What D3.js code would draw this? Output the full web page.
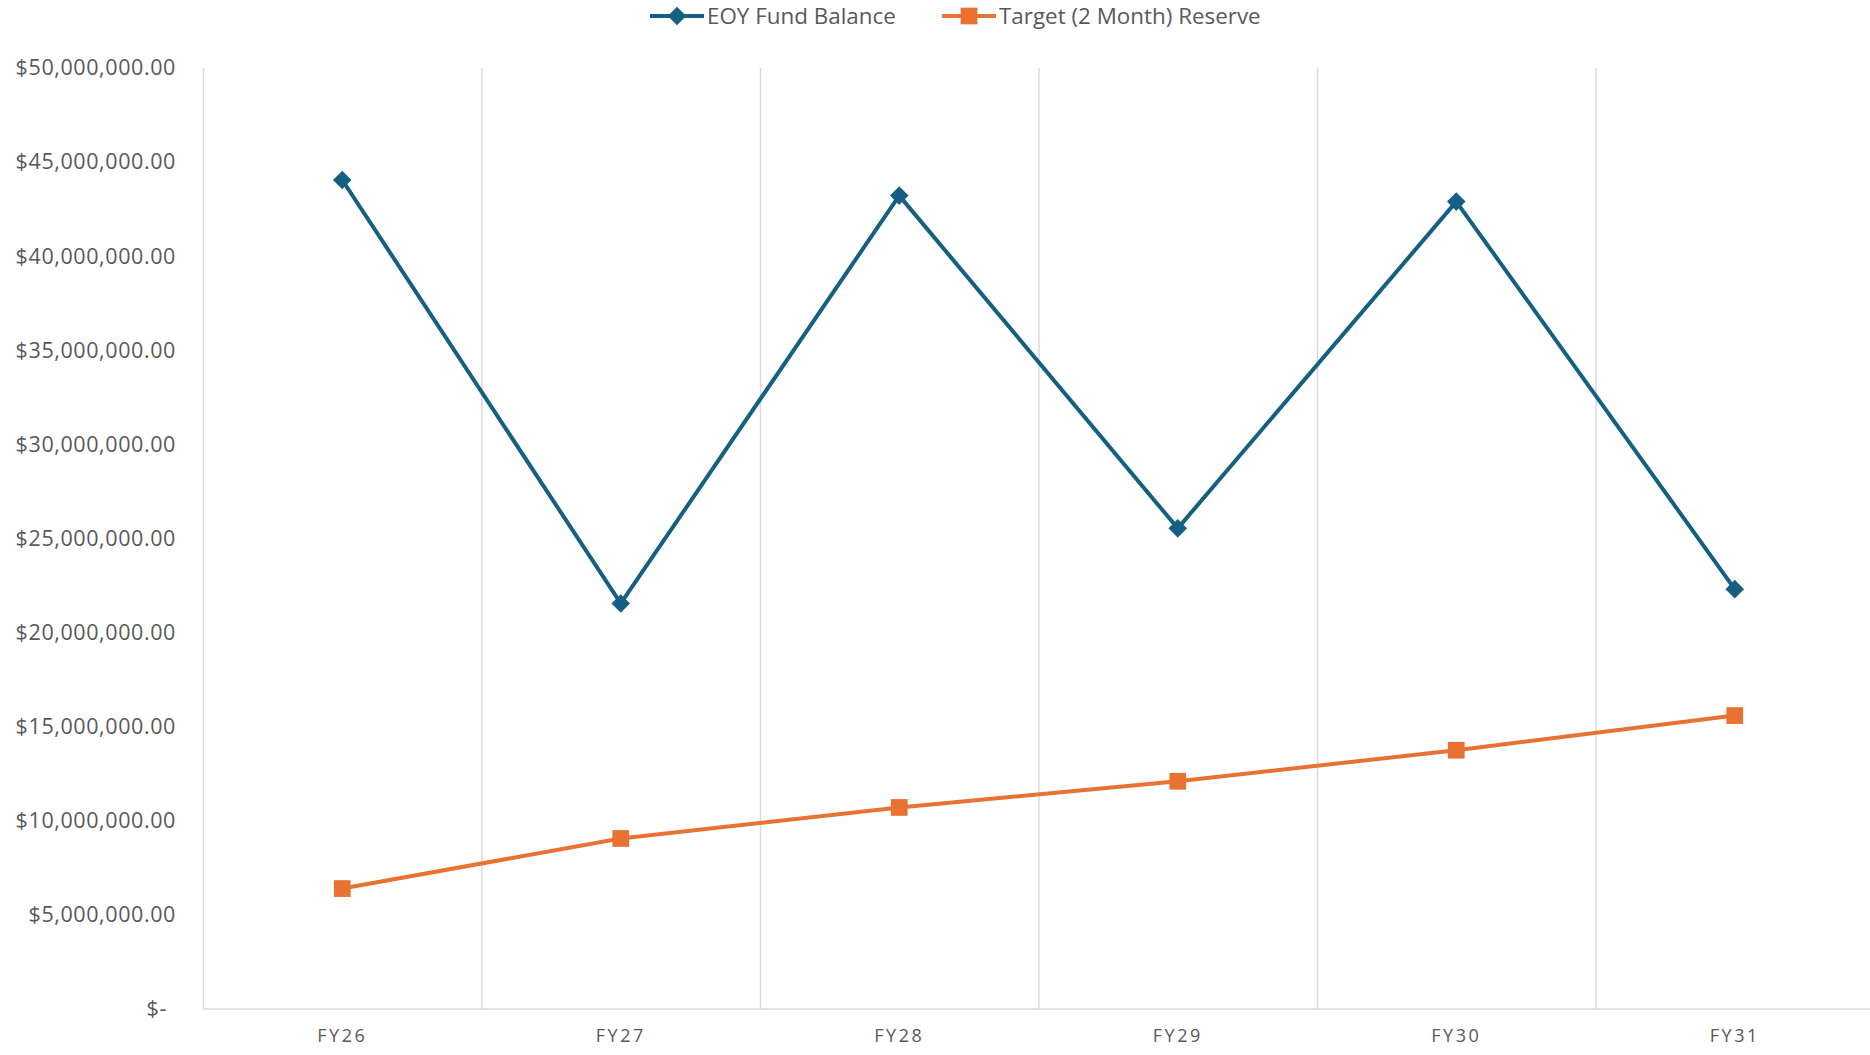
<!DOCTYPE html>
<html>
<head>
<meta charset="utf-8">
<script src="https://cdn.jsdelivr.net/npm/d3@7"></script>
<style>
  body { margin: 0; background: #fff; }
  svg { display: block; }
  text { font-family: "Open Sans", "Liberation Sans", Arial, sans-serif; fill: #595959; }
</style>
</head>
<body>
<svg width="1870" height="1055"></svg>
<script>
var categories = ["FY26", "FY27", "FY28", "FY29", "FY30", "FY31"];
var eoyBalance = [44050000, 21550000, 43220000, 25540000, 42900000, 22310000];
var targetReserve = [6400000, 9060000, 10710000, 12100000, 13750000, 15590000];
var yTicks = [0, 5000000, 10000000, 15000000, 20000000, 25000000, 30000000, 35000000, 40000000, 45000000, 50000000];
var seriesNames = ["EOY Fund Balance", "Target (2 Month) Reserve"];

var svg = d3.select("svg"),
    margin = {top: 68, right: -4, bottom: 46, left: 203},
    width = +svg.attr("width") - margin.left - margin.right,
    height = +svg.attr("height") - margin.top - margin.bottom,
    g = svg.append("g").attr("transform", "translate(" + margin.left + "," + margin.top + ")");

var blue = "#156082", orange = "#E97132", grid = "#d9d9d9";

var x = d3.scaleBand().domain(categories).range([0, width]).padding(0);
var y = d3.scaleLinear().domain([0, 50000000]).range([height, 0]);

var money = d3.format(",.2f");
function fmt(v) { return v === 0 ? "$-" : "$" + money(v); }

// vertical gridlines at category boundaries
g.selectAll(".vgrid")
  .data(categories)
  .enter().append("line")
    .attr("x1", function(d) { return x(d) + 0.5; })
    .attr("x2", function(d) { return x(d) + 0.5; })
    .attr("y1", 0)
    .attr("y2", height)
    .attr("stroke", grid)
    .attr("stroke-width", 1.5);

// baseline
g.append("line")
  .attr("x1", 0).attr("x2", width)
  .attr("y1", height).attr("y2", height)
  .attr("stroke", grid).attr("stroke-width", 1.5);

// y axis labels
var yAxis = d3.axisLeft(y).tickValues(yTicks).tickFormat(fmt).tickSize(0).tickPadding(27);
g.append("g").call(yAxis)
  .call(function(a) { a.select(".domain").remove(); })
  .selectAll("text")
    .attr("font-size", "21.5px")
    .attr("font-family", "'Liberation Sans', Arial, sans-serif")
    .attr("letter-spacing", "0.6px")
    .style("fill", "#595959")
    .attr("dx", function(d) { return d === 0 ? "-9" : "0"; });

// x axis labels
var xAxis = d3.axisBottom(x).tickSize(0).tickPadding(20);
g.append("g").attr("transform", "translate(0," + height + ")").call(xAxis)
  .call(function(a) { a.select(".domain").remove(); })
  .selectAll("text")
    .attr("font-size", "18px")
    .attr("font-family", "'Open Sans', sans-serif")
    .attr("letter-spacing", "2.5px")
    .style("fill", "#595959");

var cx = function(d, i) { return x(categories[i]) + x.bandwidth() / 2; };

var line = d3.line()
  .x(function(d, i) { return cx(d, i); })
  .y(function(d) { return y(d); });

g.append("path").datum(eoyBalance)
  .attr("fill", "none").attr("stroke", blue).attr("stroke-width", 4)
  .attr("stroke-linejoin", "round").attr("d", line);

g.append("path").datum(targetReserve)
  .attr("fill", "none").attr("stroke", orange).attr("stroke-width", 4)
  .attr("stroke-linejoin", "round").attr("d", line);

var diamond = d3.symbol().type(d3.symbolDiamond2).size(220);
var square = d3.symbol().type(d3.symbolSquare).size(280);

g.selectAll(".eoy")
  .data(eoyBalance)
  .enter().append("path")
    .attr("transform", function(d, i) { return "translate(" + cx(d, i) + "," + y(d) + ")"; })
    .attr("d", diamond)
    .attr("fill", blue);

g.selectAll(".tgt")
  .data(targetReserve)
  .enter().append("path")
    .attr("transform", function(d, i) { return "translate(" + cx(d, i) + "," + y(d) + ")"; })
    .attr("d", square)
    .attr("fill", orange);

// legend
var legendItems = [
  {name: seriesNames[0], color: blue, sym: diamond, x: 650},
  {name: seriesNames[1], color: orange, sym: square, x: 942}
];
var lg = svg.append("g").attr("transform", "translate(0,16)");
legendItems.forEach(function(d) {
  lg.append("line").attr("x1", d.x).attr("x2", d.x + 54)
    .attr("y1", 0).attr("y2", 0)
    .attr("stroke", d.color).attr("stroke-width", 4);
  lg.append("path").attr("transform", "translate(" + (d.x + 27) + ",0)")
    .attr("d", d.sym).attr("fill", d.color);
  lg.append("text").attr("x", d.x + 57).attr("y", 0).attr("dy", "0.35em")
    .attr("font-size", "22.4px").text(d.name);
});
</script>
</body>
</html>
